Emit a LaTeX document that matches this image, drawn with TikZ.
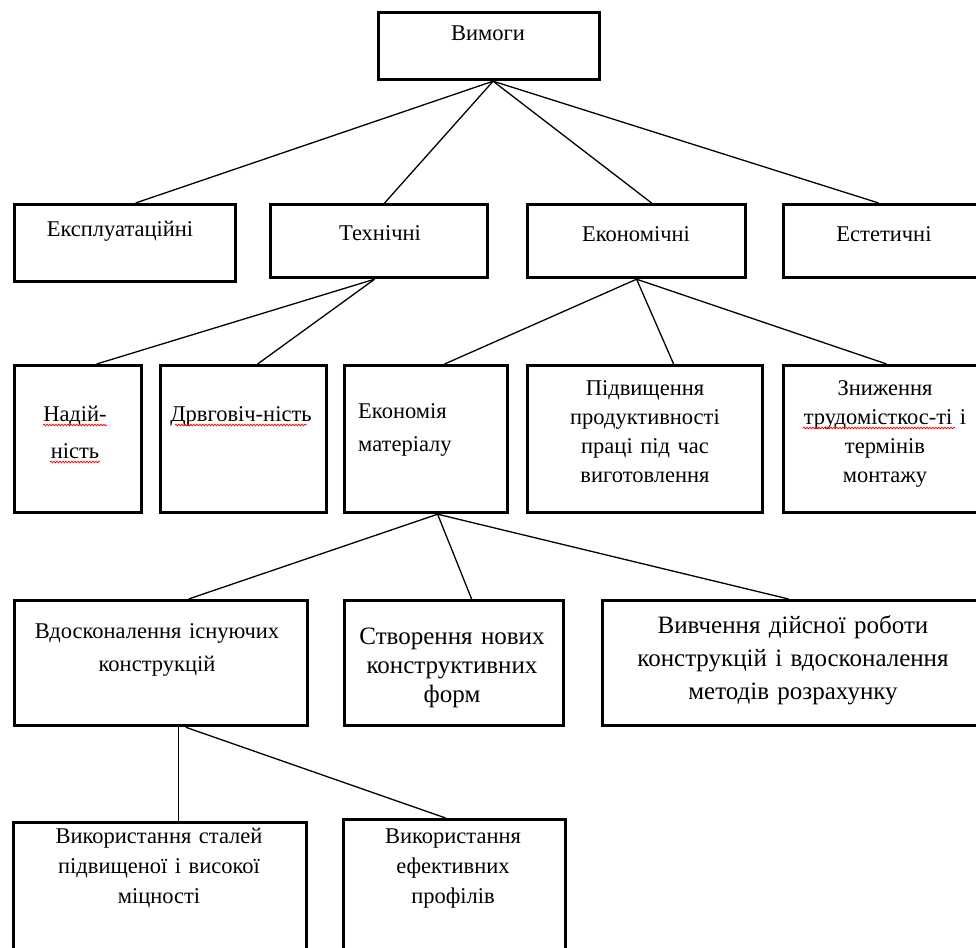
\documentclass[tikz,border=0pt]{standalone}
\usepackage{fontspec}
\setmainfont{Liberation Serif}
\usetikzlibrary{decorations.pathmorphing}
\tikzset{
  box/.style={draw, line width=3.2pt, anchor=north west, inner sep=0pt},
  txt/.style={font=\fontsize{22.5}{30}\selectfont, text width=380pt, align=center, anchor=base, inner sep=0pt},
  link/.style={line width=1.3pt},
  spellmark/.style={draw=red, line width=0.7pt, decorate,
    decoration={snake, amplitude=0.9pt, segment length=3pt}}
}
\begin{document}
\begin{tikzpicture}[x=1pt,y=-1pt]
      \clip (0,0) rectangle (976,947);
      % boxes
      \node[box, minimum width=221pt, minimum height=67pt] (vym) at (377,11) {};
      \node[box, minimum width=221pt, minimum height=77pt] (eksp) at (13,203) {};
      \node[box, minimum width=217pt, minimum height=73pt] (tekh) at (269,203) {};
      \node[box, minimum width=218pt, minimum height=73pt] (ekon) at (526,203) {};
      \node[box, minimum width=208pt, minimum height=73pt] (est) at (782,203) {};
      \node[box, minimum width=127pt, minimum height=147pt] (nad) at (13,364) {};
      \node[box, minimum width=166pt, minimum height=147pt] (dov) at (159,364) {};
      \node[box, minimum width=163pt, minimum height=147pt] (ekm) at (343,364) {};
      \node[box, minimum width=235pt, minimum height=147pt] (pid) at (526,364) {};
      \node[box, minimum width=208pt, minimum height=147pt] (zn) at (782,364) {};
      \node[box, minimum width=293pt, minimum height=125pt] (vdos) at (13,599) {};
      \node[box, minimum width=219pt, minimum height=125pt] (stv) at (343,599) {};
      \node[box, minimum width=389pt, minimum height=125pt] (viv) at (601,599) {};
      \node[box, minimum width=293pt, minimum height=140pt] (vst) at (12,821) {};
      \node[box, minimum width=222pt, minimum height=143pt] (vef) at (342,818) {};
      % texts
      \node[txt] (vym-t) at (488,41) {Вимоги};
      \node[txt] (eksp-t) at (120,236) {Експлуатаційні};
      \node[txt] (tekh-t) at (380,240) {Технічні};
      \node[txt] (ekon-t) at (636,241) {Економічні};
      \node[txt] (est-t) at (884,241) {Естетичні};
      \node[txt, font=\fontsize{22.5}{37}\selectfont] (nad-t) at (75,421) {Надій-\\ність};
      \node[txt] (dov-t) at (241,421) {Дрвговіч-ність};
      \node[txt, text width=160pt, align=left, anchor=base west,
        font=\fontsize{22.5}{33}\selectfont] (ekm-t) at (358,418) {Економія\\матеріалу};
      \node[txt, font=\fontsize{22.5}{29}\selectfont] (pid-t) at (645,395)
        {Підвищення\\продуктивності\\праці під час\\виготовлення};
      \node[txt, font=\fontsize{22.5}{29}\selectfont] (zn-t) at (885,395)
        {Зниження\\трудомісткос-ті і\\термінів\\монтажу};
      \node[txt, font=\fontsize{22.5}{33}\selectfont] (vdos-t) at (157,638)
        {Вдосконалення існуючих\\конструкцій};
      \node[txt, font=\fontsize{25}{29}\selectfont] (stv-t) at (452,644)
        {Створення нових\\конструктивних\\форм};
      \node[txt, font=\fontsize{25}{33}\selectfont] (viv-t) at (793,633)
        {Вивчення дійсної роботи\\конструкцій і вдосконалення\\методів розрахунку};
      \node[txt] (vst-t) at (159,843)
        {Використання сталей\\підвищеної і високої\\міцності};
      \node[txt] (vef-t) at (453,843)
        {Використання\\ефективних\\профілів};
      % spelling marks
      \draw[spellmark] ([xshift=-32pt,yshift=-4pt]nad-t.base) -- ([xshift=32pt,yshift=-4pt]nad-t.base);
      \draw[spellmark] ([xshift=-25pt,yshift=-41pt]nad-t.base) -- ([xshift=25pt,yshift=-41pt]nad-t.base);
      \draw[spellmark] ([xshift=-66pt,yshift=-4pt]dov-t.base) -- ([xshift=66pt,yshift=-4pt]dov-t.base);
      \draw[spellmark] ([xshift=-82pt,yshift=-33pt]zn-t.base) -- ([xshift=70pt,yshift=-33pt]zn-t.base);
      \begin{scope}[link]
        \draw ([xshift=4pt]vym.south) to ([xshift=10.5pt]eksp.north);
        \draw ([xshift=4pt]vym.south) to ([xshift=5.5pt]tekh.north);
        \draw ([xshift=4pt]vym.south) to ([xshift=15pt]ekon.north);
        \draw ([xshift=4pt]vym.south) to ([xshift=-9pt]est.north);
        \draw ([xshift=-4.5pt]tekh.south) to ([xshift=18.5pt]nad.north);
        \draw ([xshift=-4.5pt]tekh.south) to ([xshift=14pt]dov.north);
        \draw (ekon.south) to ([xshift=18.5pt]ekm.north);
        \draw (ekon.south) to ([xshift=28.5pt]pid.north);
        \draw (ekon.south) to ([xshift=-1pt]zn.north);
        \draw ([xshift=11.5pt]ekm.south) to ([xshift=27.5pt]vdos.north);
        \draw ([xshift=11.5pt]ekm.south) to ([xshift=17.5pt]stv.north);
        \draw ([xshift=11.5pt]ekm.south) to ([xshift=-8.5pt]viv.north);
        \draw ([xshift=17.5pt]vdos.south) to ([xshift=18.5pt]vst.north);
        \draw ([xshift=24.5pt]vdos.south) to ([xshift=-9pt]vef.north);
      \end{scope}
    \end{tikzpicture}
\end{document}
